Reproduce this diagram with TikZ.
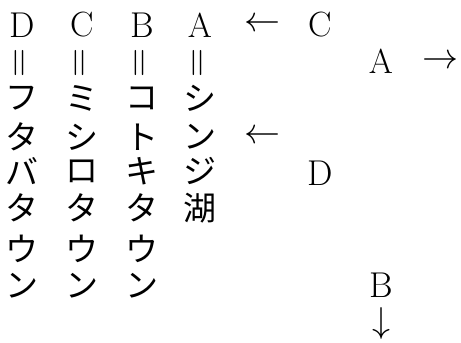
\RequirePackage{fix-cm}
\documentclass[tikz,border=0pt]{standalone}
\usepackage{fontspec}
\usepackage{graphicx}
\setmainfont{Latin Modern Roman}
\newfontfamily\jpfont{Noto Sans CJK JP}
\newcommand{\capL}[1]{\resizebox{!}{24.5pt}{#1}}
\newcommand{\vEq}{\resizebox{!}{29pt}{\rotatebox{90}{=}}}
\begin{document}
\begin{tikzpicture}[x=1pt,y=-1pt,
  lbl/.style={inner sep=0pt,anchor=center,font=\fontsize{36}{40}\selectfont},
  kana/.style={inner sep=0pt,anchor=center,font=\fontsize{33}{36}\selectfont\jpfont}]
\useasboundingbox (0,0) rectangle (461,343);
% header letters
\node[lbl] (d0) at (22,25) {\capL{D}};
\node[lbl] (c0) at (82,25) {\capL{C}};
\node[lbl] (b0) at (142,25) {\capL{B}};
\node[lbl] (a0) at (200,25) {\capL{A}};
% vertical equals
\foreach \n/\x in {d/22,c/82,b/142,a/200}{
  \node[lbl] (\n eq) at (\x,62.5) {\vEq};
}
% columns
\foreach \ch [count=\i] in {フ,タ,バ,タ,ウ,ン}{
  \pgfmathsetmacro\yy{{98,137,171,208,249,286}[\i-1]}
  \node[kana] (d\i) at (22,\yy) {\ch};
}
\foreach \ch [count=\i] in {ミ,シ,ロ,タ,ウ,ン}{
  \pgfmathsetmacro\yy{{98,137,171,208,249,286}[\i-1]}
  \node[kana] (c\i) at (82,\yy) {\ch};
}
\foreach \ch [count=\i] in {コ,ト,キ,タ,ウ,ン}{
  \pgfmathsetmacro\yy{{98,137,171,208,249,286}[\i-1]}
  \node[kana] (b\i) at (142,\yy) {\ch};
}
\foreach \ch [count=\i] in {シ,ン,ジ,湖}{
  \pgfmathsetmacro\yy{{98,137,171,208,249,286}[\i-1]}
  \node[kana] (a\i) at (200,\yy) {\ch};
}
% right side
\node[lbl] (arrC) at (262,25) {$\leftarrow$};
\node[lbl] (rC) at (320,25) {\capL{C}};
\node[lbl] (rA) at (381,61) {\capL{A}};
\node[lbl] (arrA) at (440,62) {$\rightarrow$};
\node[lbl] (arrD) at (262,137) {$\leftarrow$};
\node[lbl] (rD) at (320,173) {\capL{D}};
\node[lbl] (rB) at (381,285) {\capL{B}};
\node[lbl] (arrB) at (381,323) {$\downarrow$};
\end{tikzpicture}
\end{document}
